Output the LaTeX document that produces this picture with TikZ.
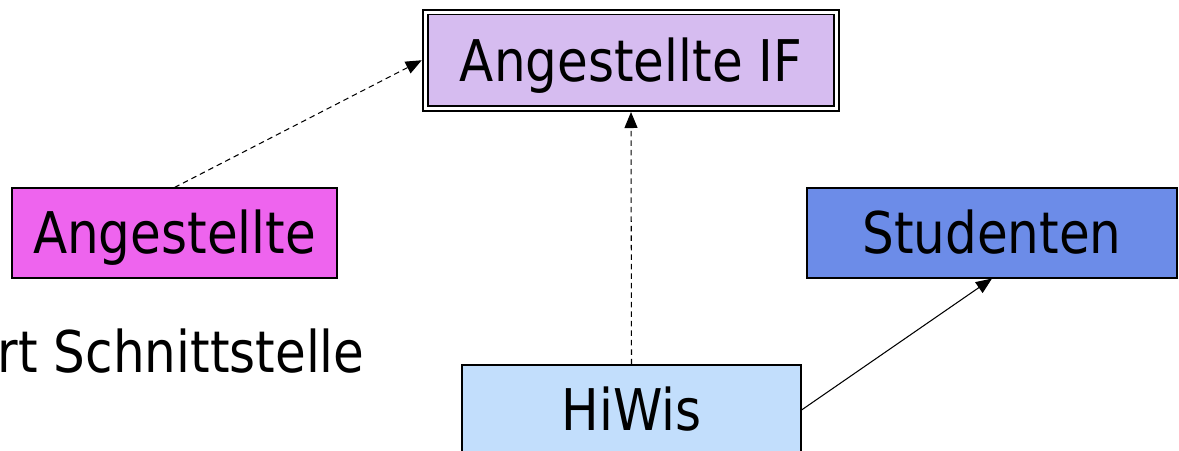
\documentclass[tikz,border=0pt]{standalone}
\usepackage{fontspec}
\setmainfont[FakeStretch=0.87]{DejaVu Sans}
\usetikzlibrary{arrows.meta}

\definecolor{ifpurple}{RGB}{214,188,240}
\definecolor{angmagenta}{RGB}{238,100,238}
\definecolor{studblue}{RGB}{108,140,232}
\definecolor{hiwiblue}{RGB}{194,222,252}

\tikzset{
    classbox/.style={draw, line width=0.6pt, minimum height=1.8cm, inner sep=0pt,
        text height=23.8pt, text depth=0pt, font=\fontsize{32.7}{39}\selectfont},
}

\begin{document}
\begin{tikzpicture}[>={Triangle[length=0.32cm, width=0.26cm]}]
    \clip (0, 0) rectangle (23.58, -9);

    \node[classbox, line width=1.1pt, double, double distance=0.06cm, outer sep=0.07cm, minimum width=8.23cm, minimum height=1.93cm, fill=ifpurple] (angif) at (12.62, -1.205) {Angestellte IF};
    \node[classbox, minimum width=6.5cm, fill=angmagenta] (ang) at (3.49, -4.66) {Angestellte};
    \node[classbox, minimum width=7.4cm, fill=studblue] (stud) at (19.84, -4.66) {Studenten};
    \node[classbox, minimum width=6.78cm, fill=hiwiblue] (hiwi) at (12.63, -8.2) {HiWis};

    \node[anchor=base east, inner sep=0pt, font=\fontsize{32.7}{39}\selectfont] (schnitt) at (7.3, -7.45) {rt Schnittstelle};

    \draw[->, dash pattern=on 0.11cm off 0.08cm, line width=0.6pt] (ang.north) to (angif.west);
    \draw[->, dash pattern=on 0.11cm off 0.08cm, line width=0.6pt] (hiwi.north) to (angif.south);
    \draw[->, line width=0.6pt] (hiwi.east) to (stud.south);

\end{tikzpicture}
\end{document}
